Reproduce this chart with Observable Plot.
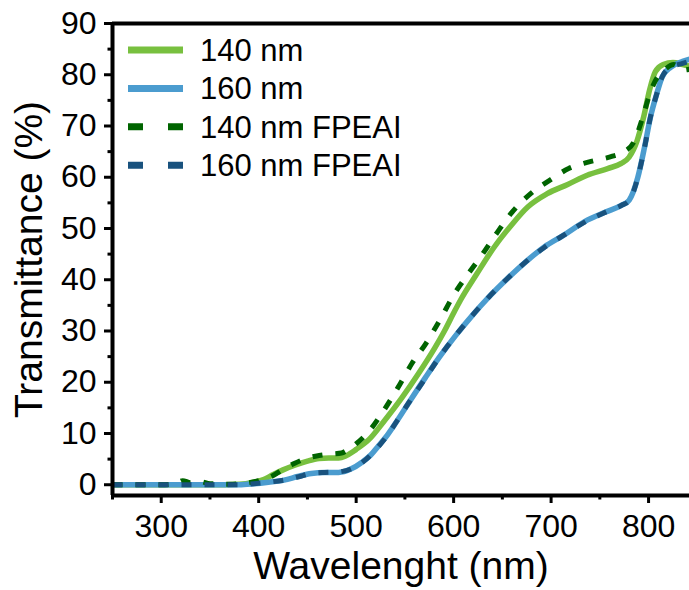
<!DOCTYPE html>
<html>
<head>
<meta charset="utf-8">
<script src="https://cdn.jsdelivr.net/npm/d3@7"></script>
<script src="https://cdn.jsdelivr.net/npm/@observablehq/plot@0.6"></script>
<style>
  html, body { margin: 0; padding: 0; background: #fff; }
  #wrap { position: relative; width: 689px; height: 590px; overflow: hidden; }
  #legend { position: absolute; left: 0; top: 0; pointer-events: none; }
</style>
</head>
<body>
<div id="wrap"></div>
<script>
// ---- Data ----
const seriesNames = ["140 nm", "160 nm", "140 nm FPEAI", "160 nm FPEAI"];
const seriesColors = ["#78c03f", "#4b9ccf", "#006400", "#19527e"];
const seriesDashed = [false, false, true, true];

const wl140 = [250,300,350,380,395,405,415,425,437,450,462,472,482,490,500,513,529,547,564,581,590,600,607,624,641,659,676,696,717,737,758,772,780,788,795,801,807,815,825,835,845];
const t140  = [0,0,0,0.1,0.5,1.0,2.0,2.9,3.8,4.6,5.1,5.2,5.2,5.7,6.9,8.8,12.5,17,21.7,26.8,29.8,33.5,36,41.2,46.2,50.6,54.2,56.8,58.6,60.4,61.7,62.7,63.9,67,71.8,77,80.6,82,82.4,82,81.5];

const wl160 = [250,300,350,380,395,410,426,440,454,468,482,495,506,515,523,532,540,554,571,585,602,619,636,655,674,693,713,734,756,772,780,789,796,802,808,814,823,835,845];
const t160  = [0,0,0,0,0.2,0.5,0.9,1.6,2.2,2.4,2.4,3.1,4.4,5.8,7.6,9.7,11.9,16,20.9,24.8,29.1,33,36.6,40.2,43.5,46.4,48.7,51.3,53.2,54.5,55.5,60,66,71.8,76,79.6,81.5,82.6,83.2];

const wl140F = [250,300,315,322,330,340,350,370,390,400,413,425,437,450,462,475,485,492,500,513,528,543,557,572,587,600,614,630,645,660,679,700,718,739,763,775,785,794,802,809,816,826,835,845];
const t140F  = [0,0,0.2,0.8,0.4,0.6,0.2,0.1,0.4,0.8,1.6,3.0,4.2,5.2,5.7,6.0,6.2,6.9,8.0,10.4,14.4,19,23.6,27.7,32.5,37,40.9,45.1,49.3,53.2,56.8,59.6,61.7,63,64.1,65,66.9,71.7,76.7,79.5,80.9,82,80.9,81.2];

const wl160F = [250,300,350,380,395,410,426,440,454,468,482,495,506,515,523,532,540,554,571,585,602,619,636,655,674,693,713,734,756,772,780,789,796,802,808,814,823,835,845];
const t160F  = [0,0,0,0,0.2,0.5,0.9,1.5,2.2,2.4,2.5,3.1,4.3,5.8,7.5,9.6,11.9,16,20.8,24.8,29.1,33,36.6,40.2,43.5,46.3,48.7,51.2,53.2,54.5,55.4,60,65.9,71.8,76,79.6,81.5,82.2,82.8];

const xTicks = [300,400,500,600,700,800];
const xMinorTicks = [250,350,450,550,650,750];
const yTicks = [0,10,20,30,40,50,60,70,80,90];
const yMinorTicks = [5,15,25,35,45,55,65,75,85];
const xDomain = [250, 842];
const yDomain = [-2.1, 90];
const xLabel = "Wavelenght (nm)";
const yLabel = "Transmittance (%)";

// ---- Build table ----
const wlSets = [wl140, wl160, wl140F, wl160F];
const tSets = [t140, t160, t140F, t160F];
const rows = [];
seriesNames.forEach((name, i) => {
  wlSets[i].forEach((w, j) => rows.push({series: name, wl: w, t: tSets[i][j]}));
});

const font = '"Liberation Sans", Arial, sans-serif';
const lineMarks = seriesNames.map((name, i) => Plot.line(rows.filter(d => d.series === name), {
  x: "wl", y: "t",
  stroke: seriesColors[i],
  strokeWidth: seriesDashed[i] ? 5 : 5.5,
  strokeDasharray: seriesDashed[i] ? "10,13" : null,
  strokeLinecap: "butt",
  curve: "monotone-x",
  clip: true
}));

const chart = Plot.plot({
  width: 689,
  height: 590,
  marginLeft: 112,
  marginRight: 0,
  marginTop: 23,
  marginBottom: 95,
  x: {domain: xDomain},
  y: {domain: yDomain},
  style: {fontFamily: font, fontSize: "32px", color: "#000", background: "#fff"},
  marks: [
    ...lineMarks,
    Plot.axisX({ticks: xTicks, tickSize: 8, tickPadding: 11, strokeWidth: 3, label: null, fontSize: 32, fill: "#000"}),
    Plot.axisX({ticks: xMinorTicks, tickSize: 4.5, tickFormat: () => "", strokeWidth: 3, label: null}),
    Plot.axisY({ticks: yTicks, tickSize: 8, tickPadding: 8, strokeWidth: 3, label: null, fontSize: 32, fill: "#000"}),
    Plot.axisY({ticks: yMinorTicks, tickSize: 4.5, tickFormat: () => "", strokeWidth: 3, label: null}),
    Plot.ruleX([xDomain[0]], {stroke: "#000", strokeWidth: 4}),
    Plot.ruleY([yDomain[0]], {stroke: "#000", strokeWidth: 4}),
    Plot.ruleY([yDomain[1]], {stroke: "#000", strokeWidth: 4}),
    Plot.text([xLabel], {frameAnchor: "bottom", dy: 71, lineAnchor: "middle", textAnchor: "middle", fontSize: 39, fill: "#000"}),
    Plot.text([yLabel], {frameAnchor: "left", dx: -83, rotate: -90, lineAnchor: "middle", textAnchor: "middle", fontSize: 39, fill: "#000"})
  ]
});

const wrap = document.getElementById("wrap");
wrap.appendChild(chart);

// ---- Legend overlay ----
const leg = d3.select(wrap).append("svg")
  .attr("id", "legend").attr("width", 689).attr("height", 590)
  .style("font-family", font);
seriesNames.forEach((name, i) => {
  const cy = 50 + i * 38.4;
  leg.append("line")
    .attr("x1", 128).attr("x2", 183).attr("y1", cy).attr("y2", cy)
    .attr("stroke", seriesColors[i]).attr("stroke-width", 7)
    .attr("stroke-dasharray", seriesDashed[i] ? "15,25" : null);
  leg.append("text")
    .attr("x", 200).attr("y", cy).attr("dy", "0.35em")
    .attr("font-size", 31).attr("fill", "#000")
    .text(name);
});
</script>
</body>
</html>
